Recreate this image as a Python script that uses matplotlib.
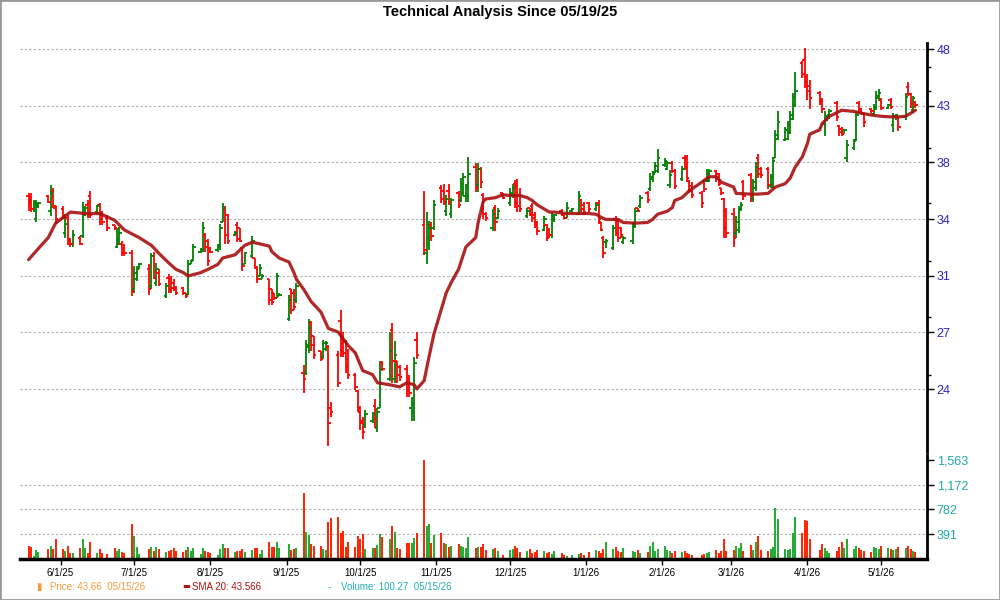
import numpy as np
import pandas as pd
import matplotlib
matplotlib.use('Agg')
import matplotlib.pyplot as plt
import matplotlib.dates as mdates
from matplotlib.patches import Rectangle

plt.rcParams['font.family'] = ['Liberation Sans', 'DejaVu Sans']

# trading days shown
holidays = ['2025-05-26', '2025-06-19', '2025-07-04', '2025-09-01', '2025-11-27',
            '2025-12-25', '2026-01-01', '2026-01-19', '2026-02-16', '2026-04-03']
days = pd.bdate_range('2025-05-19', '2026-05-15', freq='C', holidays=holidays)

opens = [35.8, 35.5, 34.9, 34.2, 35.1, 35.8, 34.8, 36.2, 35.0,
         34.9, 33.3, 34.3, 32.9, 32.6, 33.0, 33.1, 34.5, 35.2, 35.8, 34.7, 35.2, 34.6, 34.3, 33.8, 32.4, 32.6, 32.6, 32.3, 32.0,
         29.8, 30.4, 31.0, 31.0, 30.0, 31.8, 30.2, 30.8, 29.4, 30.5, 30.4, 30.2, 29.9, 29.9, 29.6, 29.5, 31.3, 31.6, 32.1, 32.2, 33.2, 32.8,
         32.3, 32.2, 32.4, 34.0, 34.9, 34.5, 33.2, 33.8, 33.6, 32.3, 31.3, 31.8, 31.7, 31.1, 30.6, 30.4, 30.4, 29.8, 29.6, 29.3, 29.4,
         28.1, 29.8, 29.6, 29.2, 25.3, 25.3, 26.6, 27.9, 27.2, 26.4, 26.1, 26.5, 26.6, 23.6, 26.2, 28.0, 26.8, 26.9, 26.0, 25.2, 24.4,
         23.4, 23.0, 22.8, 23.0, 23.7, 22.7, 23.6, 25.8, 25.0, 27.5, 25.0, 25.9, 25.6, 25.5, 25.0, 23.6, 23.4, 27.0, 33.8, 32.0, 33.0, 33.8, 33.6,
         36.4, 36.2, 34.8, 36.2, 34.6, 36.0, 35.5, 36.0, 35.8, 35.8, 37.9, 36.6, 37.8, 35.9, 34.6, 33.6, 35.0, 34.3, 36.0,
         35.3, 35.9, 36.7, 36.5, 35.8, 34.4, 35.0, 35.1, 34.5, 34.0, 33.5, 33.8, 33.5, 33.2, 34.2, 34.8, 34.5, 34.3, 34.8, 34.6, 35.5, 35.2,
         35.3, 34.9, 35.3, 34.0, 33.0, 32.7, 32.3, 34.2, 34.0, 33.6, 32.7, 32.8, 33.7, 35.0, 35.1, 36.0, 36.3, 37.0, 37.5, 37.6,
         38.1, 37.8, 36.6, 38.2, 37.6, 37.0, 38.6, 38.5, 36.9, 36.5, 36.0, 36.9, 36.9, 36.9, 37.6, 37.4, 36.4, 35.6, 34.8,
         34.6, 33.3, 33.5, 34.9, 36.8, 37.3, 35.6, 36.4, 38.6, 37.8, 37.8, 36.5, 36.6, 38.6, 40.1, 40.0, 40.1, 40.6, 41.7, 42.8, 46.5, 46.8,
         45.3, 44.5, 43.9, 43.3, 41.3, 41.6, 42.0, 43.0, 41.1, 40.9, 40.5, 38.6, 39.4, 40.0, 43.0, 42.5, 42.1, 42.5, 42.1, 42.5, 43.4,
         43.3, 42.6, 43.3, 41.2, 41.8, 41.8, 41.8, 44.4, 43.8, 42.4, 43.1]
highs = [36.0, 36.0, 35.5, 35.5, 35.4, 35.9, 36.6, 36.4, 35.1,
         35.1, 34.6, 34.5, 33.0, 33.5, 33.1, 35.4, 35.1, 35.5, 36.2, 35.2, 35.3, 34.8, 34.5, 33.8, 33.6, 33.7, 32.8, 32.6, 32.2,
         31.2, 31.2, 31.4, 31.3, 32.0, 32.1, 31.4, 31.0, 30.2, 30.7, 30.6, 30.4, 30.0, 29.95, 29.6, 31.6, 31.6, 32.6, 32.3, 34.0, 33.3, 32.9,
         32.4, 32.6, 33.9, 35.3, 35.1, 34.6, 33.4, 34.0, 33.6, 32.4, 32.1, 33.1, 31.7, 31.2, 31.3, 30.7, 30.4, 29.8, 29.6, 30.8, 29.6,
         29.5, 29.8, 29.8, 30.2, 25.7, 27.0, 28.1, 28.0, 27.2, 26.4, 27.0, 26.9, 26.7, 23.9, 26.4, 28.6, 27.4, 27.0, 26.5, 25.3, 24.45,
         23.7, 23.2, 23.5, 23.4, 24.0, 23.6, 25.9, 25.9, 27.4, 27.9, 26.9, 25.9, 25.7, 25.7, 25.2, 24.1, 26.1, 27.4, 36.2, 34.7, 34.1, 34.0, 35.5,
         36.6, 36.7, 35.9, 36.7, 35.7, 36.2, 37.1, 37.5, 36.7, 38.7, 38.2, 38.2, 37.9, 36.0, 34.7, 34.9, 35.2, 35.0, 36.0,
         36.4, 36.7, 36.95, 37.0, 36.4, 35.0, 35.0, 35.3, 34.7, 34.1, 34.4, 33.9, 33.6, 34.7, 34.6, 34.9, 34.6, 35.4, 35.0, 36.2, 35.6, 35.4,
         35.4, 35.4, 35.5, 34.0, 33.1, 32.9, 33.8, 34.4, 34.2, 33.7, 33.1, 34.0, 35.0, 35.0, 35.9, 36.2, 37.5, 37.6, 38.3, 39.3,
         38.6, 38.4, 37.7, 38.4, 37.8, 38.0, 38.8, 38.8, 36.95, 36.8, 36.2, 36.95, 37.8, 37.8, 37.7, 37.5, 36.4, 35.7, 35.0,
         35.0, 34.4, 35.1, 35.4, 36.95, 37.5, 37.0, 38.3, 38.9, 37.9, 37.9, 37.4, 38.7, 40.8, 42.3, 41.0, 41.5, 42.3, 43.9, 45.7, 46.7, 47.9,
         45.5, 45.0, 44.0, 43.4, 42.3, 41.9, 42.5, 43.2, 41.2, 41.0, 40.9, 40.0, 40.1, 42.3, 43.2, 42.6, 42.2, 42.6, 42.9, 44.0, 44.2,
         43.4, 42.9, 43.4, 42.2, 42.1, 41.9, 43.9, 44.8, 43.9, 43.6, 43.2]
lows = [34.8, 34.7, 34.7, 34.0, 35.0, 35.3, 34.4, 35.0, 33.9,
        34.2, 33.0, 32.5, 32.4, 32.4, 32.5, 33.0, 34.4, 34.3, 34.3, 34.6, 33.8, 33.8, 33.4, 33.5, 32.3, 32.5, 31.8, 31.8, 29.4,
        29.6, 30.3, 31.0, 29.5, 29.8, 30.4, 30.0, 30.0, 29.3, 29.6, 29.6, 29.7, 29.5, 29.5, 29.3, 29.5, 31.3, 31.5, 32.0, 32.1, 32.1, 31.2,
        32.0, 32.1, 32.2, 34.0, 32.6, 32.6, 33.1, 32.7, 32.7, 30.9, 31.3, 31.7, 31.0, 30.2, 30.6, 30.4, 28.9, 28.9, 29.2, 29.3, 29.4,
        28.0, 28.4, 28.6, 29.0, 24.3, 25.2, 26.3, 26.4, 26.0, 25.9, 26.0, 26.4, 21.9, 23.2, 24.6, 26.1, 26.1, 25.3, 25.0, 24.45, 23.4,
        22.6, 22.2, 22.7, 22.9, 22.7, 22.5, 23.6, 25.4, 24.9, 24.8, 24.8, 24.8, 24.9, 24.1, 24.1, 23.0, 23.0, 26.0, 31.9, 31.3, 32.2, 32.8, 33.5,
        35.3, 35.2, 34.4, 35.2, 34.3, 35.0, 35.4, 35.8, 35.4, 35.4, 36.1, 36.1, 36.4, 34.2, 34.1, 33.4, 33.4, 34.2, 35.6,
        35.1, 35.7, 35.0, 34.7, 34.7, 34.3, 34.4, 34.0, 33.6, 33.2, 33.4, 32.8, 33.0, 33.0, 34.0, 34.4, 34.2, 34.3, 34.7, 34.5, 34.7, 34.5,
        34.7, 34.8, 33.9, 33.4, 31.7, 32.3, 32.2, 33.1, 32.7, 33.0, 32.6, 32.6, 33.6, 34.7, 35.0, 35.3, 36.2, 36.8, 37.5, 37.5,
        37.9, 37.7, 36.4, 37.5, 36.3, 36.9, 37.7, 36.8, 36.0, 35.7, 35.0, 36.1, 36.8, 36.8, 36.8, 36.5, 35.9, 33.0, 33.0,
        32.4, 33.0, 33.3, 34.8, 35.5, 35.4, 35.4, 36.2, 37.1, 37.1, 36.3, 36.4, 36.4, 38.6, 40.0, 39.9, 40.0, 40.5, 41.6, 42.7, 45.2, 44.3,
        43.3, 42.5, 42.8, 42.2, 40.3, 41.5, 41.7, 41.5, 40.3, 40.3, 40.5, 38.3, 39.2, 39.9, 42.2, 42.1, 41.0, 42.2, 42.0, 42.4, 43.2,
        42.4, 42.5, 42.5, 40.6, 41.6, 40.7, 41.6, 43.6, 42.6, 42.2, 42.6]
closes = [35.4, 34.9, 35.3, 35.2, 35.3, 35.4, 36.0, 35.1, 34.2,
          34.4, 33.9, 32.8, 32.6, 33.2, 32.6, 35.0, 35.0, 34.6, 34.5, 35.1, 34.2, 34.0, 33.6, 33.6, 32.9, 33.3, 32.0, 32.0, 29.7,
          30.8, 31.0, 31.3, 29.8, 31.8, 30.5, 31.0, 30.1, 30.0, 29.8, 29.9, 29.8, 29.6, 29.6, 29.4, 31.3, 31.5, 32.4, 32.2, 33.6, 32.4, 31.5,
          32.1, 32.5, 33.6, 35.0, 33.2, 32.8, 33.3, 32.9, 32.8, 31.2, 32.0, 32.8, 31.1, 30.4, 31.1, 30.6, 29.2, 29.1, 29.3, 30.6, 29.5,
          29.2, 28.6, 28.8, 30.0, 25.0, 26.7, 27.6, 26.7, 26.2, 26.0, 26.8, 26.8, 22.9, 23.4, 24.8, 26.4, 26.3, 25.6, 25.2, 24.6, 23.6,
          22.9, 22.5, 23.3, 23.3, 23.1, 23.4, 25.5, 25.5, 26.4, 25.9, 26.2, 25.2, 25.1, 24.4, 24.3, 23.8, 25.8, 26.2, 32.2, 33.8, 33.6, 33.1, 35.2,
          35.6, 35.4, 35.6, 35.4, 35.5, 35.2, 36.7, 37.2, 36.5, 37.4, 36.4, 37.8, 36.8, 34.6, 34.3, 34.6, 34.0, 34.8, 35.7,
          36.0, 36.4, 35.4, 35.1, 34.9, 34.8, 34.6, 34.3, 33.8, 33.4, 34.2, 33.0, 33.2, 34.4, 34.5, 34.5, 34.3, 35.0, 34.9, 35.8, 34.9, 34.7,
          34.9, 35.2, 34.2, 33.5, 32.0, 32.8, 33.6, 33.3, 33.0, 33.2, 33.0, 33.8, 34.8, 34.8, 35.7, 35.5, 37.2, 37.4, 38.0, 38.6,
          38.4, 38.2, 37.3, 37.6, 36.5, 37.8, 37.9, 37.1, 36.2, 35.9, 35.3, 36.3, 37.5, 37.6, 37.0, 36.7, 36.0, 33.6, 33.3,
          33.0, 34.0, 34.9, 35.2, 35.8, 35.8, 36.8, 37.9, 37.4, 37.3, 36.6, 37.2, 38.4, 40.4, 41.4, 40.8, 41.2, 42.0, 43.5, 44.0, 45.5, 44.8,
          44.0, 43.4, 43.1, 42.5, 41.9, 41.8, 42.3, 41.8, 40.6, 40.5, 40.8, 39.6, 39.9, 42.0, 42.4, 42.2, 41.4, 42.3, 42.7, 43.6, 43.9,
          42.6, 42.8, 42.7, 41.9, 42.0, 41.0, 43.5, 43.8, 42.9, 43.4, 42.8]
volumes = [204, 193, 50, 136, 108, 153, 204, 153, 306,
           153, 119, 204, 85, 85, 170, 306, 170, 85, 272, 85, 153, 85, 68, 170, 119, 153, 102, 85, 544,
           357, 187, 68, 153, 187, 119, 187, 153, 102, 119, 136, 170, 119, 102, 136, 187, 119, 170, 68, 170, 119, 102,
           85, 51, 153, 238, 170, 170, 102, 119, 119, 153, 102, 136, 170, 170, 68, 136, 272, 187, 187, 272, 170,
           238, 136, 153, 170, 1037, 425, 374, 238, 204, 204, 153, 136, 578, 646, 663, 408, 442, 187, 272, 187, 357,
           306, 391, 153, 170, 170, 221, 391, 340, 306, 510, 425, 170, 153, 255, 255, 255, 323, 408, 1563, 510, 544, 255, 374,
           408, 255, 238, 187, 204, 238, 204, 187, 170, 340, 170, 187, 187, 238, 136, 153, 170, 119, 60,
           136, 153, 204, 170, 102, 119, 153, 85, 102, 136, 119, 85, 102, 68, 119, 85, 51, 40, 60, 68, 85, 60,
           102, 136, 119, 85, 153, 272, 153, 187, 119, 102, 170, 119, 102, 136, 85, 102, 204, 272, 119, 153,
           204, 136, 119, 85, 119, 102, 119, 85, 68, 60, 51, 68, 85, 102, 136, 85, 119, 306, 119,
           136, 204, 170, 255, 119, 221, 136, 272, 357, 136, 119, 153, 187, 800, 635, 153, 136, 160, 408, 657, 400, 606,
           590, 306, 136, 238, 170, 119, 85, 119, 187, 272, 170, 306, 153, 204, 170, 136, 119, 102, 187, 170, 153,
           204, 170, 153, 136, 153, 187, 170, 204, 153, 119, 100]

sma_dates = ['2025-05-19', '2025-05-23', '2025-05-27', '2025-05-30', '2025-06-05', '2025-06-11', '2025-06-17', '2025-06-23',
             '2025-06-27', '2025-07-03', '2025-07-08', '2025-07-11', '2025-07-15', '2025-07-18', '2025-07-21', '2025-07-23',
             '2025-07-28', '2025-07-31', '2025-08-04', '2025-08-06', '2025-08-11', '2025-08-13', '2025-08-15', '2025-08-18',
             '2025-08-21', '2025-08-25', '2025-08-26', '2025-08-29', '2025-09-02', '2025-09-04', '2025-09-05', '2025-09-08',
             '2025-09-11', '2025-09-15', '2025-09-18', '2025-09-22', '2025-09-26', '2025-09-29', '2025-10-02', '2025-10-06',
             '2025-10-08', '2025-10-13', '2025-10-17', '2025-10-20', '2025-10-23', '2025-10-24', '2025-10-27', '2025-10-29',
             '2025-10-31', '2025-11-05', '2025-11-07', '2025-11-10', '2025-11-13', '2025-11-17', '2025-11-18', '2025-11-20',
             '2025-11-21', '2025-11-25', '2025-11-28', '2025-12-01', '2025-12-05', '2025-12-08', '2025-12-10', '2025-12-12',
             '2025-12-17', '2025-12-19', '2025-12-24', '2025-12-29', '2026-01-02', '2026-01-05', '2026-01-07', '2026-01-09',
             '2026-01-14', '2026-01-16', '2026-01-21', '2026-01-26', '2026-01-28', '2026-01-30', '2026-02-03', '2026-02-05',
             '2026-02-06', '2026-02-09', '2026-02-12', '2026-02-17', '2026-02-20', '2026-02-23', '2026-02-25', '2026-03-02',
             '2026-03-03', '2026-03-09', '2026-03-12', '2026-03-16', '2026-03-19', '2026-03-23', '2026-03-25', '2026-03-27',
             '2026-03-30', '2026-04-01', '2026-04-02', '2026-04-06', '2026-04-07', '2026-04-10', '2026-04-13', '2026-04-15',
             '2026-04-20', '2026-04-22', '2026-04-27', '2026-05-01', '2026-05-05', '2026-05-08', '2026-05-11', '2026-05-13',
             '2026-05-15']
sma_vals = [31.6, 32.3, 33.0, 33.95, 34.7, 34.6, 34.6, 34.15,
            33.5, 33.0, 32.5, 32.0, 31.4, 31.0, 30.8, 30.6,
            30.8, 31.0, 31.3, 31.7, 31.9, 32.2, 32.5, 32.7,
            32.6, 32.45, 32.1, 31.7, 31.45, 30.8, 30.4, 29.8,
            29.1, 28.5, 27.6, 27.4, 26.7, 26.3, 25.4, 25.2,
            24.8, 24.7, 24.6, 24.8, 24.7, 24.5, 24.9, 26.1,
            27.3, 29.6, 30.2, 31.0, 32.4, 33.0, 34.0, 35.4,
            35.6, 35.7, 35.9, 35.85, 35.85, 35.7, 35.5, 35.2,
            34.7, 34.7, 34.6, 34.6, 34.6, 34.55, 34.35, 34.2,
            34.2, 34.0, 33.95, 34.0, 34.2, 34.55, 34.76, 35.0,
            35.5, 35.7, 36.2, 36.8, 37.2, 37.2, 36.8, 36.45,
            36.0, 35.95, 35.95, 36.0, 36.45, 36.7, 37.1, 37.9,
            38.7, 39.7, 40.45, 40.8, 41.3, 41.9, 42.2, 42.4,
            42.3, 42.2, 42.0, 41.9, 41.85, 41.85, 41.9, 42.15,
            42.4]

price_tick_pos = [24.49, 27.38, 30.61, 34.22, 38.26, 42.77, 47.82]
price_tick_lbl = ['24', '27', '31', '34', '38', '43', '48']
price_minor = [46.2, 44.0, 39.4, 35.3, 31.5, 28.2, 25.2]
vol_ticks = [391, 782, 1172, 1563]
vol_tick_lbl = ['391', '782', '1,172', '1,563']
month_ticks = ['2025-06-01', '2025-07-01', '2025-08-01', '2025-09-01', '2025-10-01', '2025-11-01',
               '2025-12-01', '2026-01-01', '2026-02-01', '2026-03-01', '2026-04-01', '2026-05-01']
month_lbl = ['6/1/25', '7/1/25', '8/1/25', '9/1/25', '10/1/25', '11/1/25',
             '12/1/25', '1/1/26', '2/1/26', '3/1/26', '4/1/26', '5/1/26']

x = mdates.date2num(days)
o = np.array(opens); h = np.array(highs); l = np.array(lows); c = np.array(closes)
up = c >= o
col = np.where(up, '#008000', '#FF0000')
vcol = np.where(up, '#22AA33', '#FF2200')

start = mdates.date2num(pd.Timestamp('2025-05-19'))
xlim = (start - 3.5, start + 365.7)

fig = plt.figure(figsize=(10, 6), dpi=100)
ax = fig.add_axes([0.02, 1 - 452 / 600, 0.907, 409 / 600])
axv = fig.add_axes([0.02, 1 - 558.7 / 600, 0.907, 103.7 / 600])

# price bars
ax.set_yscale('log')
ax.vlines(x, l, h, colors=col, lw=1.3)
ax.hlines(o, x - 1.0, x, colors=col, lw=1.3)
ax.hlines(c, x, x + 1.0, colors=col, lw=1.3)
ax.plot(mdates.date2num(pd.to_datetime(sma_dates)), sma_vals, color='#A81010', lw=2.3, alpha=0.9,
        solid_capstyle='round', solid_joinstyle='round')
ax.set_xlim(xlim)
ax.set_ylim(21.64, 48.4)
ax.set_yticks(price_tick_pos)
ax.set_yticklabels(price_tick_lbl)
ax.set_yticks(price_minor, minor=True)
ax.yaxis.set_minor_formatter(plt.NullFormatter())
ax.yaxis.tick_right()
ax.tick_params(axis='y', which='major', direction='out', length=5, width=1, colors='black',
               labelcolor='#2626C8', labelsize=9, pad=2)
ax.tick_params(axis='y', which='minor', direction='out', length=3, width=1, colors='black')
ax.set_xticks([])
for p in price_tick_pos:
    ax.axhline(p, color='#B0B0B0', lw=0.8, ls=(0, (2, 2)), zorder=0)
for s in ['top', 'left', 'bottom']:
    ax.spines[s].set_visible(False)
ax.spines['right'].set_linewidth(2)

# volume
axv.vlines(x, 0, volumes, colors=vcol, lw=1.4)
axv.set_xlim(xlim)
axv.set_ylim(0, 1642)
axv.set_yticks(vol_ticks)
axv.set_yticklabels(vol_tick_lbl)
axv.yaxis.tick_right()
axv.tick_params(axis='y', direction='out', length=5, width=1, colors='black',
                labelcolor='#1FA8A8', labelsize=9, pad=2)
for v in vol_ticks[:-1]:
    axv.axhline(v, color='#B0B0B0', lw=0.8, ls=(0, (2, 2)), zorder=0)
axv.set_xticks(mdates.date2num(pd.to_datetime(month_ticks)))
axv.set_xticklabels(month_lbl)
axv.tick_params(axis='x', direction='out', length=4, width=1, labelsize=7, pad=3)
for s in ['top', 'left']:
    axv.spines[s].set_visible(False)
axv.spines['right'].set_linewidth(2)
axv.spines['bottom'].set_linewidth(2.5)

fig.text(0.5, 1 - 12 / 600, 'Technical Analysis Since 05/19/25', ha='center', va='center',
         fontsize=10.5, fontweight='bold')

# legend row
ly = 1 - 587 / 600
fig.text(0.036, ly, '\u25ae', color='#F59A3A', fontsize=7, va='center', family=['DejaVu Sans'])
fig.text(0.050, ly, 'Price: 43.66  05/15/26', color='#F59A3A', fontsize=7, va='center')
fig.text(0.182, ly, '\u25ac', color='#B01010', fontsize=6, va='center', family=['DejaVu Sans'])
fig.text(0.192, ly, 'SMA 20: 43.566', color='#B01010', fontsize=7, va='center')
fig.text(0.328, ly, '-', color='#22B0B0', fontsize=7, va='center')
fig.text(0.341, ly, 'Volume: 100.27  05/15/26', color='#22B0B0', fontsize=7, va='center')

fig.patches.append(Rectangle((0, 0), 1, 1, transform=fig.transFigure, fill=False,
                             ec='#9A9A9A', lw=2))

fig.savefig('out.png', dpi=100)
